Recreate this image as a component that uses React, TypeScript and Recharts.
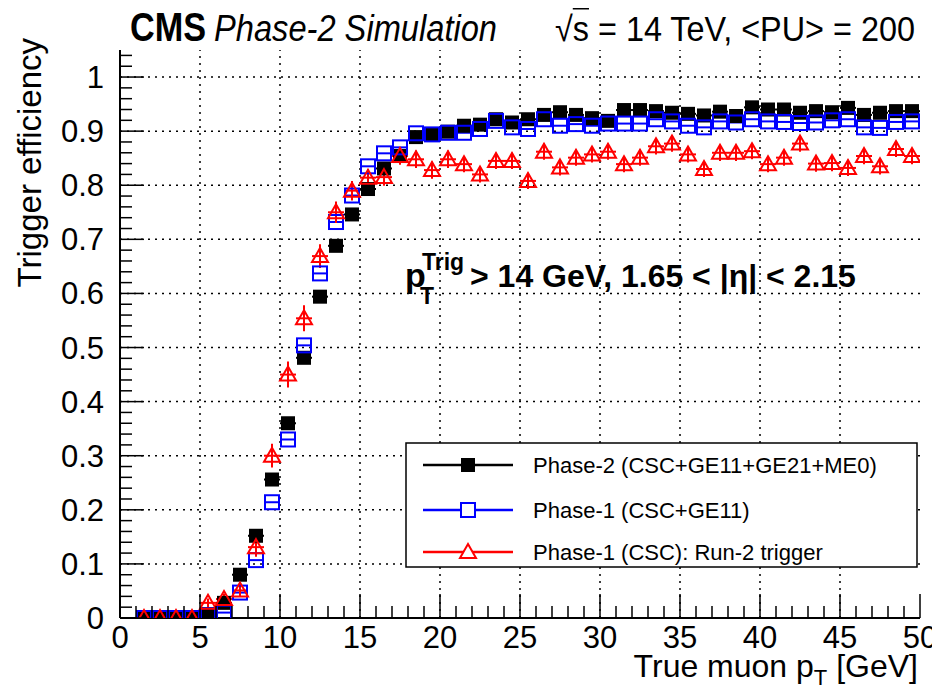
import React from "react";
import { ScatterChart, Scatter, XAxis, YAxis, ErrorBar, ReferenceLine } from "recharts";

// bin centres in true muon pT [GeV]
const binCenters = [
  1.5, 2.5, 3.5, 4.5, 5.5, 6.5, 7.5, 8.5, 9.5, 10.5,
  11.5, 12.5, 13.5, 14.5, 15.5, 16.5, 17.5, 18.5, 19.5, 20.5,
  21.5, 22.5, 23.5, 24.5, 25.5, 26.5, 27.5, 28.5, 29.5, 30.5,
  31.5, 32.5, 33.5, 34.5, 35.5, 36.5, 37.5, 38.5, 39.5, 40.5,
  41.5, 42.5, 43.5, 44.5, 45.5, 46.5, 47.5, 48.5, 49.5,
];

const phase2Eff = [
  0, 0, 0, 0, 0.007, 0.028, 0.08, 0.152, 0.256, 0.36,
  0.481, 0.594, 0.688, 0.746, 0.793, 0.831, 0.854, 0.889, 0.894, 0.899,
  0.91, 0.912, 0.922, 0.916, 0.922, 0.93, 0.935, 0.93, 0.924, 0.919,
  0.939, 0.939, 0.937, 0.934, 0.932, 0.929, 0.936, 0.928, 0.944, 0.94,
  0.94, 0.934, 0.937, 0.935, 0.943, 0.93, 0.934, 0.937, 0.937,
];

const phase1GemEff = [
  0, 0, 0, 0, 0.005, 0.01, 0.047, 0.107, 0.214, 0.33,
  0.504, 0.637, 0.732, 0.781, 0.835, 0.859, 0.87, 0.896, 0.894, 0.897,
  0.897, 0.904, 0.919, 0.907, 0.904, 0.922, 0.91, 0.913, 0.91, 0.914,
  0.914, 0.914, 0.922, 0.918, 0.91, 0.907, 0.918, 0.916, 0.922, 0.918,
  0.917, 0.915, 0.916, 0.92, 0.922, 0.907, 0.906, 0.917, 0.918,
];

const run2Eff = [
  0, 0, 0, 0, 0.028, 0.035, 0.051, 0.131, 0.3, 0.45,
  0.554, 0.669, 0.75, 0.79, 0.814, 0.815, 0.854, 0.848, 0.828, 0.848,
  0.839, 0.82, 0.845, 0.845, 0.808, 0.862, 0.833, 0.851, 0.857, 0.862,
  0.839, 0.851, 0.872, 0.877, 0.857, 0.83, 0.86, 0.86, 0.863, 0.839,
  0.851, 0.877, 0.84, 0.841, 0.832, 0.854, 0.835, 0.867, 0.854,
];

const run2Err = [
  0, 0, 0, 0, 0.008, 0.01, 0.012, 0.018, 0.022, 0.024,
  0.024, 0.022, 0.02, 0.018, 0.016, 0.016, 0.016, 0.016, 0.016, 0.016,
  0.015, 0.015, 0.015, 0.015, 0.015, 0.015, 0.015, 0.015, 0.015, 0.015,
  0.015, 0.015, 0.015, 0.015, 0.015, 0.015, 0.015, 0.015, 0.015, 0.015,
  0.015, 0.015, 0.015, 0.015, 0.015, 0.015, 0.015, 0.015, 0.015,
];

const xMajorTicks = [0, 5, 10, 15, 20, 25, 30, 35, 40, 45, 50];
const yMajorTicks = [0, 0.1, 0.2, 0.3, 0.4, 0.5, 0.6, 0.7, 0.8, 0.9, 1];
const yTickLabels = ["0", "0.1", "0.2", "0.3", "0.4", "0.5", "0.6", "0.7", "0.8", "0.9", "1"];

const seriesNames = [
  "Phase-2 (CSC+GE11+GE21+ME0)",
  "Phase-1 (CSC+GE11)",
  "Phase-1 (CSC): Run-2 trigger",
];

// minor ticks: 1 GeV on x, 0.02 on y
const xAllTicks: number[] = [];
for (let i = 0; i <= 50; i++) xAllTicks.push(i);
const yAllTicks: number[] = [];
for (let i = 0; i <= 52; i++) yAllTicks.push((i * 2) / 100);

const FONT = '"Liberation Sans", Arial, Helvetica, sans-serif';

const isMajorX = (v: number) => Math.abs(v / 5 - Math.round(v / 5)) < 1e-6;
const isMajorY = (v: number) => Math.round(v * 100) % 10 === 0;

const makeSeries = (vals: number[], errs?: number[]) =>
  binCenters.map((x, i) => ({ x, y: vals[i], ex: 0.5, ey: errs ? errs[i] : 0 }));

const phase2Data = makeSeries(phase2Eff);
const phase1Data = makeSeries(phase1GemEff);
const run2Data = makeSeries(run2Eff, run2Err);

const XTick = (props: any) => {
  const { x, y, payload, side } = props;
  const v = payload.value;
  const major = isMajorX(v);
  const len = major ? 24 : 12;
  const dir = side === "bottom" ? -1 : 1;
  return (
    <g>
      <line x1={x} x2={x} y1={y} y2={y + dir * len} stroke="#000" strokeWidth={1.5} />
      {side === "bottom" && major && (
        <text x={x} y={y + 30} textAnchor="middle" fontFamily={FONT} fontSize={31} fill="#000">
          {v}
        </text>
      )}
    </g>
  );
};

const YTick = (props: any) => {
  const { x, y, payload, side } = props;
  const v = payload.value;
  const major = isMajorY(v);
  const len = major ? 24 : 12;
  const dir = side === "left" ? 1 : -1;
  const idx = yMajorTicks.findIndex((t) => Math.abs(t - v) < 1e-6);
  return (
    <g>
      <line x1={x} x2={x + dir * len} y1={y} y2={y} stroke="#000" strokeWidth={1.5} />
      {side === "left" && idx >= 0 && (
        <text x={x - 16} y={y + 11} textAnchor="end" fontFamily={FONT} fontSize={31} fill="#000">
          {yTickLabels[idx]}
        </text>
      )}
    </g>
  );
};

const FullSquare = (props: any) => (
  <rect x={props.cx - 7} y={props.cy - 7} width={14} height={14} fill="#000" />
);
const OpenSquare = (props: any) => (
  <rect x={props.cx - 7} y={props.cy - 7} width={14} height={14} fill="none" stroke="#0000ff" strokeWidth={2} />
);
const OpenTriangle = (props: any) => (
  <polygon
    points={`${props.cx},${props.cy - 8} ${props.cx + 8},${props.cy + 6} ${props.cx - 8},${props.cy + 6}`}
    fill="none"
    stroke="#ff0000"
    strokeWidth={2}
  />
);

const legendColors = ["#000", "#0000ff", "#ff0000"];

const LegendBox = () => (
  <svg width={513} height={126} style={{ position: "absolute", left: 397, top: 434 }}>
    <rect x={1} y={1} width={511} height={124} fill="#fff" stroke="#000" strokeWidth={1.5} />
    {seriesNames.map((name, i) => {
      const cy = [23, 68, 110][i];
      const c = legendColors[i];
      return (
        <g key={name}>
          <line x1={18} x2={108} y1={cy} y2={cy} stroke={c} strokeWidth={2.5} />
          {i === 0 && <FullSquare cx={63} cy={cy} />}
          {i === 1 && <rect x={56} y={cy - 7} width={14} height={14} fill="#fff" stroke={c} strokeWidth={2} />}
          {i === 2 && (
            <polygon points={`63,${cy - 8} 71,${cy + 6} 55,${cy + 6}`} fill="#fff" stroke={c} strokeWidth={2} />
          )}
          <text x={128} y={cy + 8} fontFamily={FONT} fontSize={22} fill="#000">
            {name}
          </text>
        </g>
      );
    })}
  </svg>
);

const App: React.FC = () => {
  return (
    <div style={{ position: "relative", width: 924, height: 682, fontFamily: FONT, background: "#fff" }}>
      <ScatterChart width={924} height={674} margin={{ top: 42, right: 12, bottom: 0, left: 0 }}>
        <XAxis
          xAxisId="b"
          dataKey="x"
          type="number"
          domain={[0, 50]}
          ticks={xAllTicks}
          interval={0}
          height={64}
          allowDataOverflow
          tickSize={0}
          tickMargin={0}
          tickLine={false}
          axisLine={{ stroke: "#000", strokeWidth: 2 }}
          tick={(p: any) => <XTick {...p} side="bottom" />}
        />
        <XAxis
          xAxisId="t"
          orientation="top"
          dataKey="x"
          type="number"
          domain={[0, 50]}
          ticks={xAllTicks}
          interval={0}
          height={0}
          allowDataOverflow
          tickSize={0}
          tickMargin={0}
          tickLine={false}
          axisLine={{ stroke: "#000", strokeWidth: 2 }}
          tick={(p: any) => <XTick {...p} side="top" />}
        />
        <YAxis
          yAxisId="l"
          dataKey="y"
          type="number"
          domain={[0, 1.05]}
          ticks={yAllTicks}
          interval={0}
          width={112}
          allowDataOverflow
          tickSize={0}
          tickMargin={0}
          tickLine={false}
          axisLine={{ stroke: "#000", strokeWidth: 2 }}
          tick={(p: any) => <YTick {...p} side="left" />}
        />
        <YAxis
          yAxisId="r"
          orientation="right"
          dataKey="y"
          type="number"
          domain={[0, 1.05]}
          ticks={yAllTicks}
          interval={0}
          width={0}
          allowDataOverflow
          tickSize={0}
          tickMargin={0}
          tickLine={false}
          axisLine={{ stroke: "#000", strokeWidth: 2 }}
          tick={(p: any) => <YTick {...p} side="right" />}
        />

        {xMajorTicks.slice(1, -1).map((v) => (
          <ReferenceLine key={"gx" + v} x={v} xAxisId="b" yAxisId="l" stroke="#000" strokeWidth={1.5} strokeDasharray="2 5" />
        ))}
        {yMajorTicks.slice(1).map((v) => (
          <ReferenceLine key={"gy" + v} y={v} xAxisId="b" yAxisId="l" stroke="#000" strokeWidth={1.5} strokeDasharray="2 5" />
        ))}

        <Scatter name={seriesNames[0]} data={phase2Data} xAxisId="b" yAxisId="l" shape={FullSquare} isAnimationActive={false}>
          <ErrorBar dataKey="ex" direction="x" width={0} stroke="#000" strokeWidth={2} />
        </Scatter>
        <Scatter name={seriesNames[1]} data={phase1Data} xAxisId="b" yAxisId="l" shape={OpenSquare} isAnimationActive={false}>
          <ErrorBar dataKey="ex" direction="x" width={0} stroke="#0000ff" strokeWidth={2} />
        </Scatter>
        <Scatter name={seriesNames[2]} data={run2Data} xAxisId="b" yAxisId="l" shape={OpenTriangle} isAnimationActive={false}>
          <ErrorBar dataKey="ex" direction="x" width={0} stroke="#ff0000" strokeWidth={2} />
          <ErrorBar dataKey="ey" direction="y" width={0} stroke="#ff0000" strokeWidth={2} />
        </Scatter>
      </ScatterChart>

      <LegendBox />

      <svg
        width={924}
        height={690}
        style={{ position: "absolute", left: 0, top: 0, pointerEvents: "none" }}
        fontFamily={FONT}
      >
        <text x={122} y={33} fontSize={40} fontWeight="bold" textLength={76} lengthAdjust="spacingAndGlyphs">CMS</text>
        <text x={206} y={33} fontSize={36} fontStyle="italic" textLength={283} lengthAdjust="spacingAndGlyphs">
          Phase-2 Simulation
        </text>
        <text x={547} y={33} fontSize={35} textLength={360} lengthAdjust="spacingAndGlyphs">
          √<tspan style={{ textDecoration: "overline" }}>s</tspan> = 14 TeV, &lt;PU&gt; = 200
        </text>

        <text transform="translate(33,30) rotate(-90)" fontSize={33} textAnchor="end">
          Trigger efficiency
        </text>

        <text x={910} y={669} fontSize={32} textAnchor="end">
          True muon p<tspan fontSize={22} dy={8}>T</tspan>
          <tspan dy={-8}> [GeV]</tspan>
        </text>

        <g fontWeight="bold">
          <text x={397} y={279} fontSize={34}>p</text>
          <text x={414} y={262} fontSize={23}>Trig</text>
          <text x={412} y={296} fontSize={23}>T</text>
          <text x={462} y={279} fontSize={32}>&gt; 14 GeV, 1.65 &lt; |η| &lt; 2.15</text>
        </g>
      </svg>
    </div>
  );
};

export default App;
